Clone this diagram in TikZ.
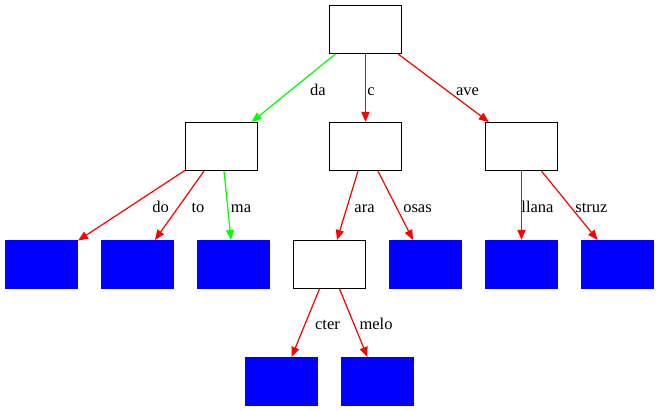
\documentclass[tikz,border=0pt]{standalone}
\usepackage{fontspec}
\setmainfont{Liberation Serif}
\usepackage{xcolor}
\usepackage{tikz}
\usetikzlibrary{arrows.meta}
\definecolor{bg}{HTML}{FFFFFF}
\definecolor{ink}{HTML}{000000}
\definecolor{leafblue}{HTML}{0000FF}
\definecolor{nored}{HTML}{FF0000}
\definecolor{yesgreen}{HTML}{00FF00}
\tikzset{
  box/.style={draw=ink, fill=bg, line width=1pt, minimum width=72pt, minimum height=48pt, inner sep=0pt},
  leaf/.style={box, draw=leafblue, fill=leafblue},
  no/.style={draw=nored, line width=1.2pt, -{Triangle[length=10pt, width=8pt]}, fill=nored},
  yes/.style={draw=yesgreen, line width=1.2pt, -{Triangle[length=10pt, width=8pt]}, fill=yesgreen},
  lab/.style={text=ink, font=\fontsize{16.5}{18}\selectfont, inner sep=0pt, anchor=base},
}

\begin{document}
\begin{tikzpicture}[x=1pt, y=-1pt]
  \useasboundingbox[fill=bg] (0,0) rectangle (659,411);
  \begin{scope}[xshift=0.5pt, yshift=-0.5pt]
  \node[box] (root) at (365,29) {};
  \node[box] (nda) at (221,146) {};
  \node[box] (nc) at (365,146) {};
  \node[box] (nave) at (521,146) {};
  \node[leaf] (ldo) at (41,264) {};
  \node[leaf] (lto) at (137,264) {};
  \node[leaf] (lma) at (233,264) {};
  \node[box] (nara) at (329,264) {};
  \node[leaf] (losas) at (425,264) {};
  \node[leaf] (lllana) at (521,264) {};
  \node[leaf] (lstruz) at (617,264) {};
  \node[leaf] (lcter) at (281,381) {};
  \node[leaf] (lmelo) at (377,381) {};
  \draw[yes] (root) -- (nda);
  \draw[no] (root) -- (nc);
  \draw[no] (root) -- (nave);
  \draw[no] (nda) -- (ldo);
  \draw[no] (nda) -- (lto);
  \draw[yes] (nda) -- (lma);
  \draw[no] (nc) -- (nara);
  \draw[no] (nc) -- (losas);
  \draw[no] (nave) -- (lllana);
  \draw[no] (nave) -- (lstruz);
  \draw[no] (nara) -- (lcter);
  \draw[no] (nara) -- (lmelo);
  \node[lab] (tda) at (317.5,95) {da};
  \node[lab] (tc) at (370.5,95) {c};
  \node[lab] (tave) at (467,95) {ave};
  \node[lab] (tdo) at (160,212) {do};
  \node[lab] (tto) at (197.5,212) {to};
  \node[lab] (tma) at (240.5,212) {ma};
  \node[lab] (tara) at (364,212) {ara};
  \node[lab] (tosas) at (417,212) {osas};
  \node[lab] (tllana) at (537,212) {llana};
  \node[lab] (tstruz) at (591,212) {struz};
  \node[lab] (tcter) at (327,329) {cter};
  \node[lab] (tmelo) at (375.5,329) {melo};
  \end{scope}
\end{tikzpicture}
\end{document}
